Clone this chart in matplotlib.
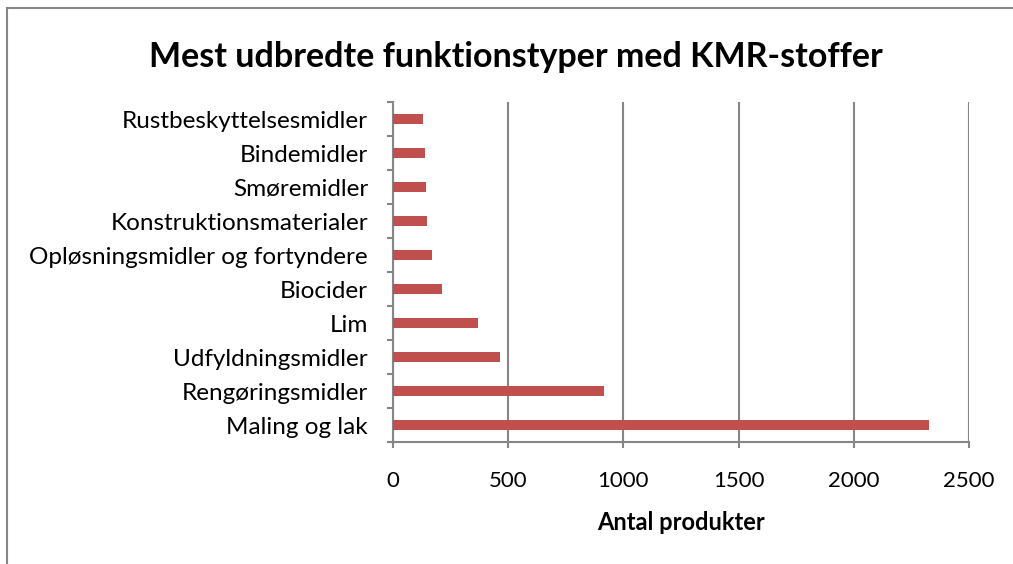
import numpy as np
import matplotlib
matplotlib.use('Agg')
import matplotlib.pyplot as plt
from matplotlib.patches import Rectangle

categories = ['Maling og lak', 'Rengøringsmidler', 'Udfyldningsmidler', 'Lim',
              'Biocider', 'Opløsningsmidler og fortyndere', 'Konstruktionsmaterialer',
              'Smøremidler', 'Bindemidler', 'Rustbeskyttelsesmidler']
antal = [2325, 917, 463, 370, 211, 168, 149, 142, 139, 129]
xticks = [0, 500, 1000, 1500, 2000, 2500]

plt.rcParams['font.family'] = ['Lato', 'DejaVu Sans']
grey = '#868686'

fig = plt.figure(figsize=(10.13, 5.64), dpi=100)
ax = fig.add_axes([393 / 1013, 1 - 442 / 564, 576 / 1013, 340 / 564])

y = np.arange(len(categories))
ax.barh(y, antal, height=0.3, color='#C0504D', zorder=3)

ax.set_xlim(0, 2500)
ax.set_ylim(-0.5, len(categories) - 0.5)
ax.set_xticks(xticks)
ax.set_xticklabels([str(t) for t in xticks], fontsize=16)
ax.set_yticks(y)
ax.set_yticklabels(categories, fontsize=17.5)
ax.set_yticks(np.arange(-0.5, len(categories)), minor=True)

ax.tick_params(axis='y', which='major', length=0, pad=18)
ax.tick_params(axis='y', which='minor', length=4, width=1.5, color=grey, direction='out')
ax.tick_params(axis='x', length=4, width=1.5, color=grey, direction='out', pad=17)

ax.grid(axis='x', color=grey, linewidth=1.5, zorder=0)
for s in ['top', 'right']:
    ax.spines[s].set_visible(False)
for s in ['left', 'bottom']:
    ax.spines[s].set_color(grey)
    ax.spines[s].set_linewidth(1.5)

ax.set_xlabel('Antal produkter', fontsize=17, fontweight='bold', va='center')
ax.xaxis.set_label_coords(0.5, (442 - 522) / 340)

fig.text(516 / 1013, 1 - 57 / 564, 'Mest udbredte funktionstyper med KMR-stoffer',
         ha='center', va='center', fontsize=24.5, fontweight='bold')

# chart frame
fig.patches.append(Rectangle((6.5 / 1013, -0.1), 1.2, 1.1 - 8 / 564,
                             transform=fig.transFigure, fill=False,
                             edgecolor=grey, linewidth=1.5))

fig.savefig('out.png', dpi=100)
